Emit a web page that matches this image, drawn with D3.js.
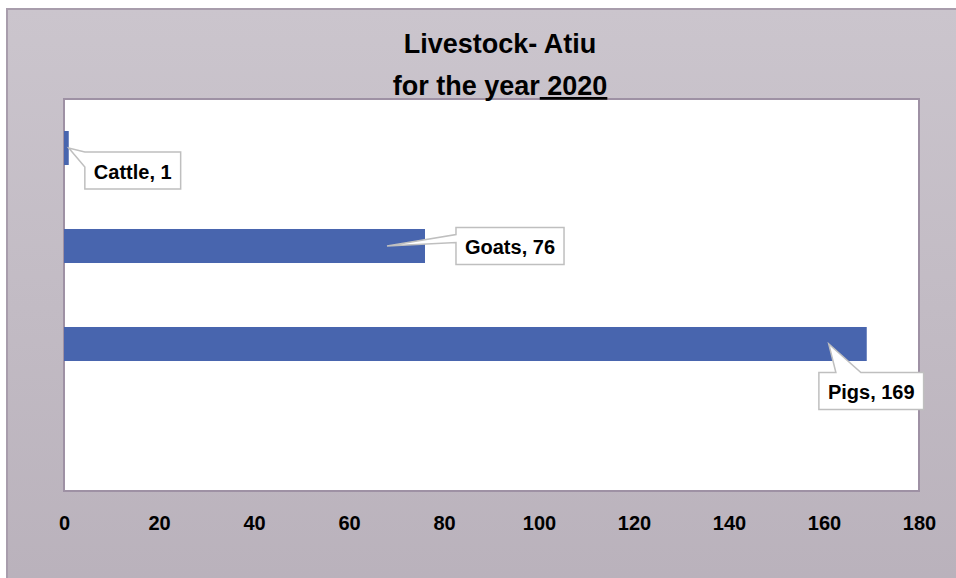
<!DOCTYPE html>
<html>
<head>
<title>Livestock- Atiu</title>
<style>
body { margin: 0; }
text {
    font-family: "Liberation Sans", Arial, sans-serif;
    font-weight: bold;
    fill: #000;
}
.xaxis text { font-size: 20px; }
.callout text { font-size: 20px; }
.title text { font-size: 27px; }
</style>
</head>
<body>
<script src="https://d3js.org/d3.v7.min.js"></script>
<div id="chart"></div>
<script>
var categories = ["Cattle", "Goats", "Pigs", ""];
var values = [1, 76, 169, null];
var xTicks = [0, 20, 40, 60, 80, 100, 120, 140, 160, 180];
var titleLine1 = "Livestock- Atiu";
var titleLine2 = "for the year";
var titleYear = " 2020";

(function() {
    var dimensions = { width: 956, height: 578 };
    var plot = { left: 64, top: 99, right: 919, bottom: 491 };

    // where each callout box sits relative to the point it points at
    var calloutLayout = {
        "Cattle": { inset: 0,  dx: 64,   dy: 22.5, side: "left", a: 0,  b: 15 },
        "Goats":  { inset: 38, dx: 123,  dy: 0,    side: "left", a: 7,  b: 15 },
        "Pigs":   { inset: 38, dx: 42.5, dy: 47,   side: "top",  a: 17, b: 42 }
    };

    var svg = d3.select("#chart")
        .append("svg")
        .attr("width", dimensions.width)
        .attr("height", dimensions.height);

    var grad = svg.append("defs").append("linearGradient")
        .attr("id", "bg")
        .attr("x1", 0).attr("y1", 0).attr("x2", 0).attr("y2", 1);
    grad.append("stop").attr("offset", "0%").attr("stop-color", "#cbc5cd");
    grad.append("stop").attr("offset", "100%").attr("stop-color", "#b9b1bb");

    svg.append("rect")
        .attr("width", dimensions.width)
        .attr("height", dimensions.height)
        .attr("fill", "#fff");
    svg.append("rect")
        .attr("x", 7)
        .attr("y", 9)
        .attr("width", dimensions.width + 20)
        .attr("height", dimensions.height + 20)
        .attr("fill", "url(#bg)")
        .attr("stroke", "#a89dac")
        .attr("stroke-width", 2);

    svg.append("rect")
        .attr("x", plot.left)
        .attr("y", plot.top)
        .attr("width", plot.right - plot.left)
        .attr("height", plot.bottom - plot.top)
        .attr("fill", "#fff")
        .attr("stroke", "#9e91a4")
        .attr("stroke-width", 2);

    var x = d3.scaleLinear()
        .domain([xTicks[0], xTicks[xTicks.length - 1]])
        .range([plot.left, plot.right]);
    var y = d3.scaleBand()
        .domain(categories)
        .range([plot.top, plot.bottom])
        .paddingInner(0.653)
        .paddingOuter(0.3265);

    var rows = categories.map(function(c, i) { return { cat: c, value: values[i] }; })
        .filter(function(d) { return d.value != null; });

    svg.append("g")
        .attr("class", "data")
        .selectAll("rect")
        .data(rows)
        .enter().append("rect")
        .attr("x", x(0))
        .attr("y", function(d) { return y(d.cat); })
        .attr("width", function(d) { return x(d.value) - x(0); })
        .attr("height", y.bandwidth())
        .attr("fill", "#4865ae");

    var xaxis = d3.axisBottom(x)
        .tickValues(xTicks)
        .tickSize(0)
        .tickPadding(25);
    var gx = svg.append("g")
        .attr("class", "xaxis")
        .attr("transform", "translate(0," + plot.bottom + ")")
        .call(xaxis);
    gx.select(".domain").remove();
    gx.selectAll("text")
        .attr("font-family", null)
        .attr("font-size", null);

    function calloutPath(bx, by, bw, bh, tx, ty, side, a, b) {
        var p = "M" + bx + "," + by;
        if (side === "top") {
            p += "L" + (bx + a) + "," + by + "L" + tx + "," + ty + "L" + (bx + b) + "," + by;
        }
        p += "L" + (bx + bw) + "," + by;
        p += "L" + (bx + bw) + "," + (by + bh);
        p += "L" + bx + "," + (by + bh);
        if (side === "left") {
            p += "L" + bx + "," + (by + b) + "L" + tx + "," + ty + "L" + bx + "," + (by + a);
        }
        return p + "Z";
    }

    var gc = svg.append("g").attr("class", "callout");
    rows.forEach(function(d) {
        var lay = calloutLayout[d.cat];
        var tx = x(d.value) - lay.inset;
        var ty = y(d.cat) + y.bandwidth() / 2;
        var cx = tx + lay.dx;
        var cy = ty + lay.dy;
        var g = gc.append("g");
        var path = g.append("path");
        var t = g.append("text")
            .attr("x", cx)
            .attr("y", cy + 8)
            .attr("text-anchor", "middle")
            .text(d.cat + ", " + d.value);
        var w = t.node().getComputedTextLength() + 18;
        var h = 37;
        path.attr("d", calloutPath(cx - w / 2, cy - h / 2, w, h, tx, ty, lay.side, lay.a, lay.b))
            .attr("fill", "#fff")
            .attr("stroke", "#bfbfbf")
            .attr("stroke-width", 1.5);
    });

    var gt = svg.append("g").attr("class", "title");
    gt.append("text")
        .attr("x", 500)
        .attr("y", 53)
        .attr("text-anchor", "middle")
        .text(titleLine1);
    var t2 = gt.append("text")
        .attr("x", 500)
        .attr("y", 95)
        .attr("text-anchor", "middle")
        .attr("xml:space", "preserve");
    t2.append("tspan").text(titleLine2);
    t2.append("tspan")
        .attr("text-decoration", "underline")
        .style("text-decoration", "underline")
        .text(titleYear);
})();
</script>
</body>
</html>
